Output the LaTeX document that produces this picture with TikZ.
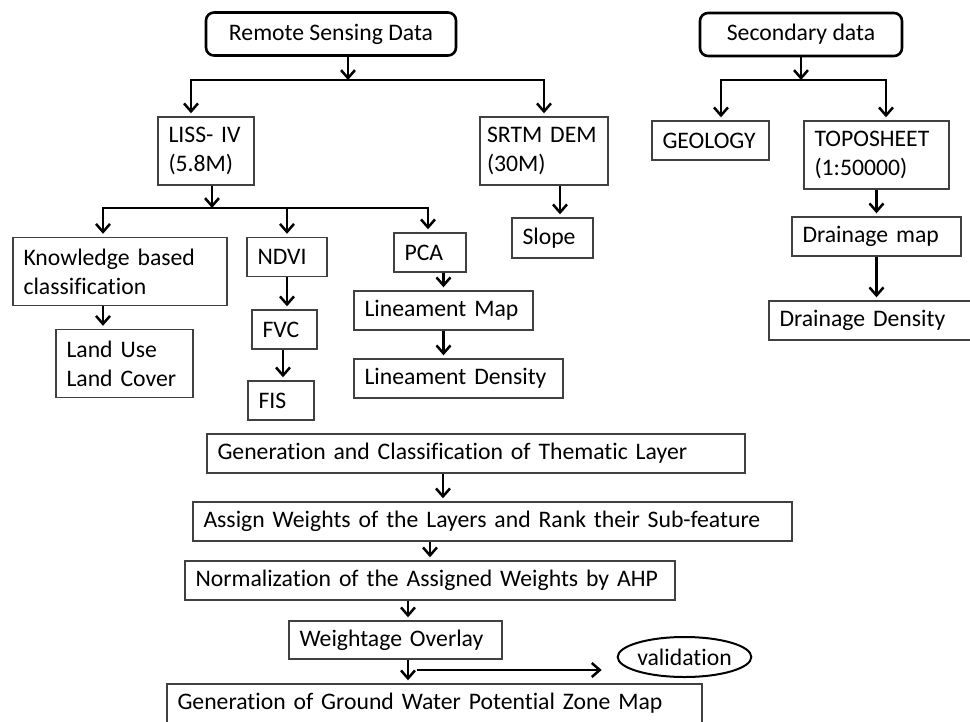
\documentclass[tikz,border=0pt]{standalone}
\usepackage{fontspec}
\setmainfont{Carlito}[Ligatures=NoCommon]
\usetikzlibrary{arrows.meta,shapes.geometric,calc}

\begin{document}
\begin{tikzpicture}[x=1pt, y=-1pt,
    box/.style={draw=black!75, line width=1.4pt, inner xsep=10.5pt, inner ysep=2pt, minimum height=39pt, align=left, font=\fontsize{23.7}{29}\selectfont},
    tallbox/.style={box, minimum height=68pt},
    source/.style={draw, line width=2.6pt, rounded corners=8pt, minimum height=43pt, align=center, font=\fontsize{23.7}{29}\selectfont},
    check/.style={draw, ellipse, line width=2pt, inner sep=0pt, minimum width=123pt, minimum height=40pt, font=\fontsize{23.7}{29}\selectfont},
    arr/.style={-{Straight Barb[length=8pt, width=14pt]}, line width=2.5pt, shorten >=3pt},
    split/.style={-{Straight Barb[length=8pt, width=14pt]}, line width=2.5pt}
]
\useasboundingbox[fill=white] (0,0) rectangle (970,721);

% data sources
\node[source, minimum width=250pt] (rsd) at (331,34) {Remote Sensing Data};
\node[source, minimum width=202pt] (sec) at (801,34.5) {Secondary data};

\node[tallbox, text width=75pt] (liss) at (206,151) {LISS- IV\\(5.8M)};
\node[tallbox, inner xsep=7pt, text width=114pt] (srtm) at (544,151) {SRTM DEM\\(30M)};
\node[box, text width=96pt] (geo) at (710.5,140.5) {GEOLOGY};
\node[tallbox, text width=124pt] (topo) at (876.5,155) {TOPOSHEET\\(1:50000)};

% derived layers
\node[tallbox, text width=193pt] (know) at (120,271.5) {Knowledge based\\classification};
\node[tallbox, text width=116pt] (lulc) at (124.5,363.5) {Land Use\\Land Cover};
\node[box, text width=59pt] (ndvi) at (287,257) {NDVI};
\node[box, text width=44pt] (fvc) at (284.5,329.5) {FVC};
\node[box, text width=45pt] (fis) at (281,400.5) {FIS};
\node[box, text width=51pt] (pca) at (430,252.5) {PCA};
\node[box, text width=158pt] (linmap) at (443.5,310.5) {Lineament Map};
\node[box, text width=188pt] (linden) at (458.5,378.5) {Lineament Density};
\node[box, text width=60pt, minimum height=40pt] (slope) at (552.5,238) {Slope};
\node[box, text width=148pt] (drmap) at (876.5,236.5) {Drainage map};
\node[box, text width=181pt] (drden) at (870,320.5) {Drainage Density};

% analysis steps
\node[box, text width=517pt] (gen) at (476,453.5) {Generation and Classification of Thematic Layer};
\node[box, text width=578pt] (assign) at (492.5,521.5) {Assign Weights of the Layers and Rank their Sub-feature};
\node[box, text width=469pt] (norm) at (430,580.5) {Normalization of the Assigned Weights by AHP};
\node[box, text width=192pt, minimum height=38pt] (wo) at (395.5,640) {Weightage Overlay};
\node[check] (valid) at (684.5,657) {validation};
\node[box, text width=514pt] (gwpz) at (434.5,703.5) {Generation of Ground Water Potential Zone Map};

% branching points
\coordinate (rsdsplit) at (348,80);
\coordinate (secsplit) at (801,80);
\coordinate (lisssplit) at (212,208);
\coordinate (vstart) at (417,670);
% connector columns
\coordinate (kcol) at ([xshift=-17pt]know.south);
\coordinate (fcol) at ([xshift=-1.5pt]fvc.south);
\coordinate (scol) at ([xshift=16pt]srtm.south);
\coordinate (gcol) at ([xshift=-33pt]gen.south);
\coordinate (ncol) at ([xshift=-22pt]norm.south);
\coordinate (wcol) at ([xshift=12.5pt]wo.south);

\draw[split] (rsd.south -| rsdsplit) -- (rsdsplit);
\draw[arr] (rsdsplit) -| ([xshift=-15pt]liss.north);
\draw[arr] (rsdsplit) -| (srtm.north);

\draw[split] (sec.south -| secsplit) -- (secsplit);
\draw[arr] (secsplit) -| ([xshift=10.5pt]geo.north);
\draw[arr] (secsplit) -| ([xshift=9.5pt]topo.north);

\draw[split] (liss.south -| lisssplit) -- (lisssplit);
\draw[arr] (lisssplit) -| ([xshift=-17pt]know.north);
\draw[arr] (lisssplit) -| (ndvi.north);
\draw[arr] (lisssplit) -| ([xshift=-2pt]pca.north);

% chains
\draw[arr] (kcol) -- (kcol |- lulc.north);
\draw[arr] (ndvi.south) -- (fvc.north -| ndvi.south);
\draw[arr] (fcol) -- (fcol |- fis.north);
\draw[arr] (pca.south -| linmap.north) -- (linmap.north);
\draw[arr] (linmap.south) -- (linden.north -| linmap.south);
\draw[arr] (scol) -- (scol |- slope.north);
\draw[arr] (topo.south) -- (drmap.north);
\draw[arr] (drmap.south) -- (drden.north -| drmap.south);

\draw[arr] (gcol) -- (gcol |- assign.north);
\draw[arr] (assign.south -| norm.north) -- (norm.north);
\draw[arr] (ncol) -- (ncol |- wo.north);
\draw[arr] (wcol) -- (wcol |- gwpz.north);
\draw[arr, shorten >=15pt] (vstart) -- (vstart -| valid.west);
\end{tikzpicture}
\end{document}
